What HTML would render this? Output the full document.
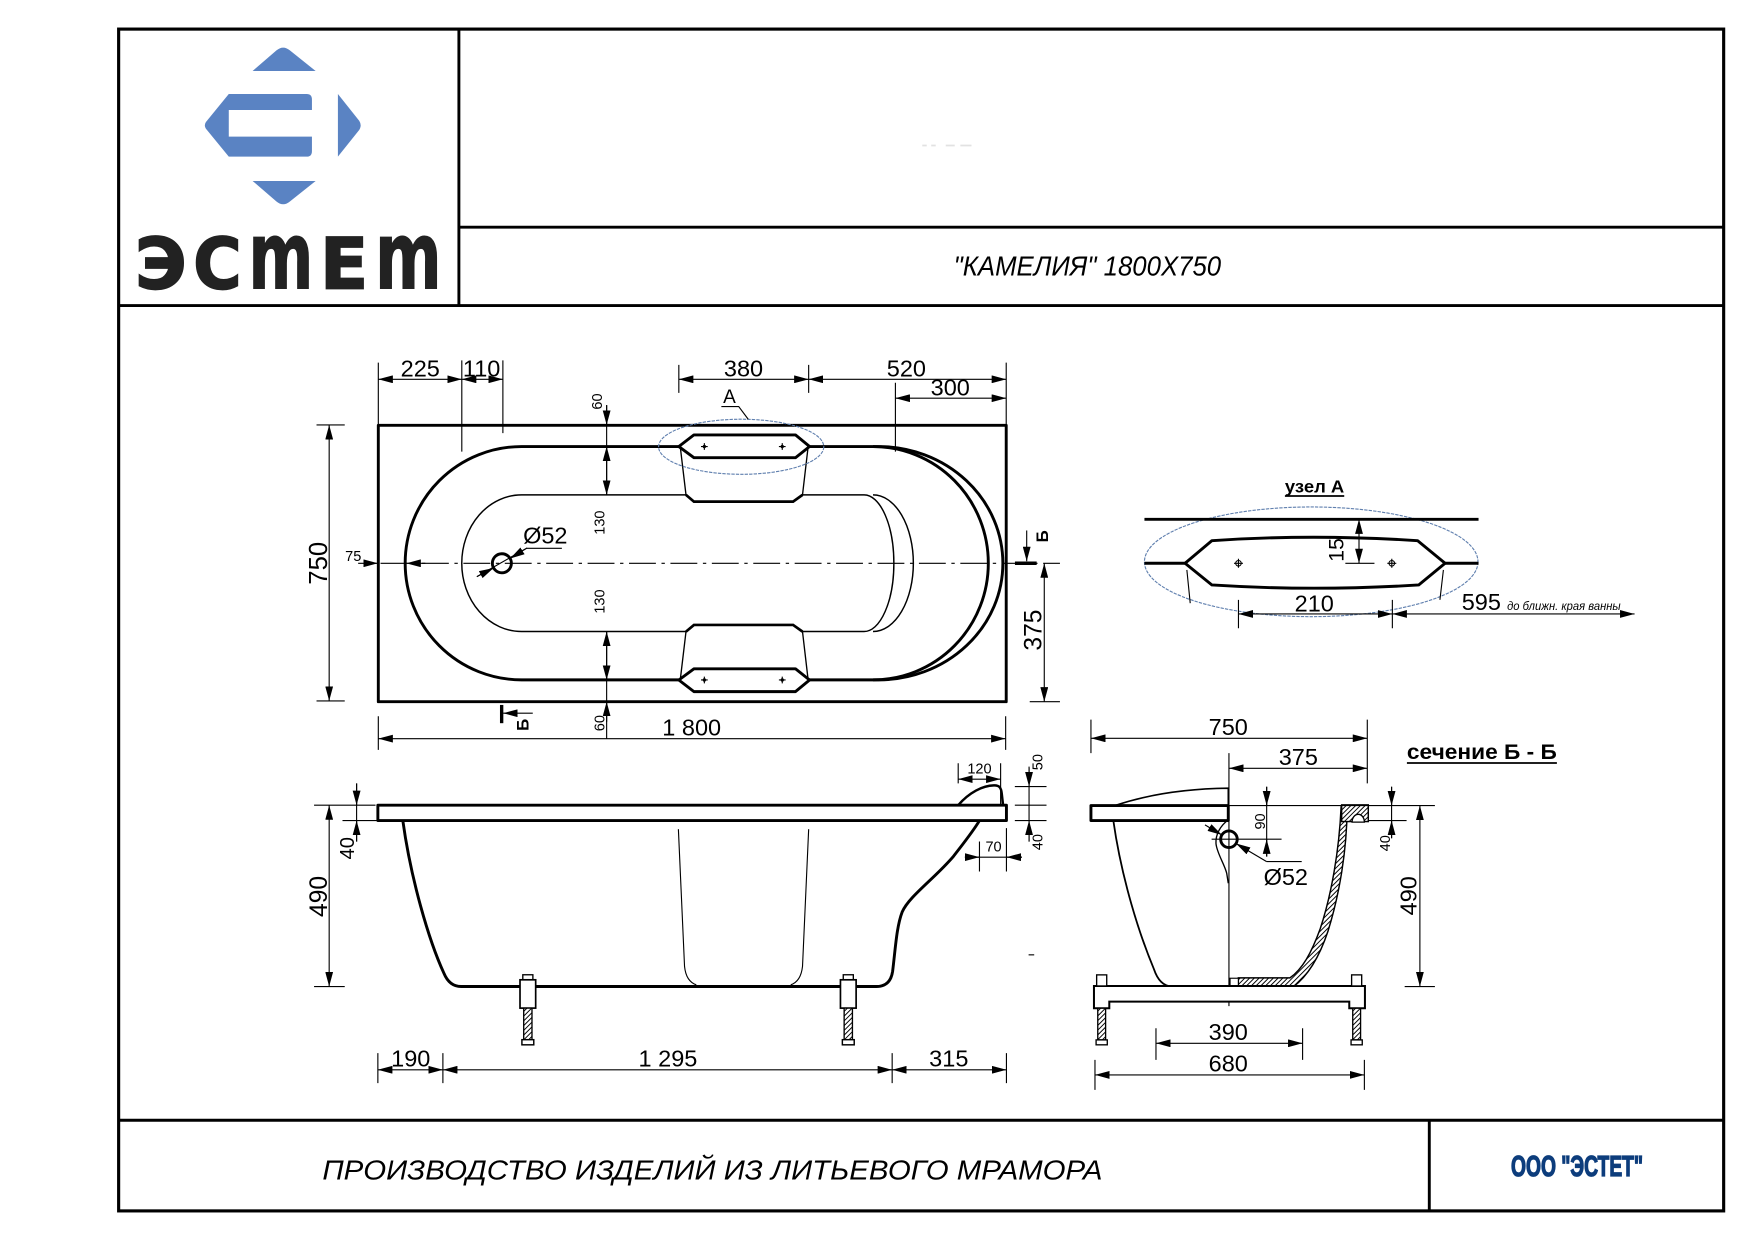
<!DOCTYPE html>
<html><head><meta charset="utf-8">
<style>
html,body{margin:0;padding:0;background:#fff;}
svg{display:block;}
</style></head>
<body>
<svg xmlns="http://www.w3.org/2000/svg" width="1755" height="1240" viewBox="0 0 1568 1108" preserveAspectRatio="none">
<defs>
<marker id="a" viewBox="0 0 13 7" refX="13" refY="3.5" markerWidth="13" markerHeight="7" markerUnits="userSpaceOnUse" orient="auto-start-reverse"><path d="M0,0L13,3.5L0,7z" fill="#000"/></marker>
<pattern id="h" width="3" height="3" patternUnits="userSpaceOnUse" patternTransform="rotate(45)"><rect width="3" height="3" fill="#fff"/><line x1="0" y1="0" x2="0" y2="3" stroke="#000" stroke-width="1.7"/></pattern>
</defs>
<style>
.t{fill:none;stroke:#000;stroke-width:1}
.k{fill:none;stroke:#000;stroke-width:2.6;stroke-linejoin:round}
.d{fill:none;stroke:#000;stroke-width:1;marker-start:url(#a);marker-end:url(#a)}
.e{fill:none;stroke:#000;stroke-width:1;marker-end:url(#a)}
text{font-family:"Liberation Sans",Arial,sans-serif;fill:#000}
.n{font-size:21px;text-anchor:middle}
.s{font-size:13px;text-anchor:middle}
</style>
<rect width="1568" height="1108" fill="#fff"/>

<!-- FRAME -->
<rect x="106" y="26" width="1434" height="1056" fill="none" stroke="#000" stroke-width="2.8"/>
<path d="M410,26V273 M410,203H1540 M106,273H1540 M106,1001H1540 M1277,1001V1082" fill="none" stroke="#000" stroke-width="2.6"/>

<!-- LOGO -->
<g fill="#5a83c3">
<path d="M225.7,63.4 L247,45 Q253,40 259,45 L282,63.4 Z"/>
<path d="M225.7,161.7 L282,161.7 L259,180 Q253,185 247,180 Z"/>
<path d="M204.4,84 L274,84 Q278.7,84 278.7,89 L278.7,98.3 L204.4,98.3 L204.4,122.1 L278.7,122.1 L278.7,135 Q278.7,140 274,140 L204.4,140 L184,115 Q182,112 184,109 Z"/>
<path d="M301.9,84 L321,108 Q323.5,112 321,116 L301.9,140 Z"/>
</g>
<g font-weight="bold">
<text x="120.6" y="257.6" font-size="63" textLength="46.2" lengthAdjust="spacingAndGlyphs" stroke="#222" stroke-width="1.5" style="font-family:'DejaVu Sans',sans-serif;fill:#222">Э</text>
<text x="172.7" y="257.6" font-size="63" textLength="43.2" lengthAdjust="spacingAndGlyphs" stroke="#222" stroke-width="1.5" style="font-family:'DejaVu Sans',sans-serif;fill:#222">С</text>
<text x="221.9" y="257.6" font-size="84" textLength="58.1" lengthAdjust="spacingAndGlyphs" stroke="#222" stroke-width="1" style="font-family:'DejaVu Sans',sans-serif;fill:#222">m</text>
<text x="285.9" y="257.6" font-size="63" textLength="43.1" lengthAdjust="spacingAndGlyphs" stroke="#222" stroke-width="1.5" style="font-family:'DejaVu Sans',sans-serif;fill:#222">Е</text>
<text x="335" y="257.6" font-size="84" textLength="59.6" lengthAdjust="spacingAndGlyphs" stroke="#222" stroke-width="1" style="font-family:'DejaVu Sans',sans-serif;fill:#222">m</text>
</g>

<!-- TITLE -->
<path d="M824,130h4 M832,130h4 M845,130h8 M858,130h10" stroke="#e2e2e2" stroke-width="1.5"/>
<text x="852" y="246" font-size="25" font-style="italic" textLength="239" lengthAdjust="spacingAndGlyphs">"КАМЕЛИЯ" 1800X750</text>
<text x="288" y="1054" font-size="25" font-style="italic" textLength="697" lengthAdjust="spacingAndGlyphs">ПРОИЗВОДСТВО ИЗДЕЛИЙ ИЗ ЛИТЬЕВОГО МРАМОРА</text>
<text x="1350" y="1051" font-size="26" font-weight="bold" textLength="118" lengthAdjust="spacingAndGlyphs" stroke="#0d3d7c" stroke-width="1.2" style="fill:#0d3d7c">ООО "ЭСТЕТ"</text>

<!-- ===== PLAN VIEW ===== -->
<rect class="k" x="338" y="380" width="561" height="247"/>
<path class="k" d="M466,399 L785,399 A111,104.25 0 0 1 785,607.5 L466,607.5 A104,104.25 0 0 1 466,399 Z"/>
<path class="k" d="M780,399 A103,104.25 0 0 1 780,607.5"/>
<path fill="none" stroke="#000" stroke-width="1.3" d="M466,442.2 L772,442.2 A26.6,61 0 0 1 772,564.3 L466,564.3 A53.4,61 0 0 1 466,442.2 Z"/>
<path fill="none" stroke="#000" stroke-width="1.3" d="M780,442.2 A36,61 0 0 1 780,564.3"/>
<path class="t" d="M340,503.3H947" stroke-dasharray="24 5 3 5"/>
<g id="hr">
<path d="M608,401 L612.9,442.2 L620,448.2 L708.6,448.2 L717,442.2 L721.8,401 Z" fill="#fff" stroke="#000" stroke-width="1.2"/>
<path d="M612.9,442.2 L620,448.2 L708.6,448.2 L717,442.2" fill="none" stroke="#000" stroke-width="2.4"/>
<path d="M606.5,399 L620,388.6 L710.7,388.6 L723.3,399 L710.7,409 L620,409 Z" fill="#fff" stroke="#000" stroke-width="2.6" stroke-linejoin="round"/>
<path class="t" d="M626.3,399h6 M629.3,396v6 M695.9,399h6 M698.9,396v6"/>
<circle cx="629.3" cy="399" r="1.5" fill="#000"/><circle cx="698.9" cy="399" r="1.5" fill="#000"/>
</g>
<use href="#hr" transform="translate(0,1006.6) scale(1,-1)"/>
<ellipse cx="662.2" cy="399.2" rx="73.8" ry="24.6" fill="none" stroke="#5f7fae" stroke-width="1" stroke-dasharray="3 1"/>
<text x="651.7" y="360" font-size="17" text-anchor="middle">A</text>
<path class="t" d="M644.5,363.3H660L668.5,374.6"/>

<path class="d" d="M338,338.9H412.6"/>
<path class="d" d="M412.6,338.9H449.3"/>
<path class="d" d="M606.5,338.9H722.5"/>
<path class="d" d="M722.5,338.9H899"/>
<path class="d" d="M800,355.8H899"/>
<path class="t" d="M338,324V380 M412.6,322V403.5 M449.3,322V387 M606.5,326V351 M722.5,326V351 M800,342V403.5 M899,324V380"/>
<text class="n" x="375.5" y="336.5">225</text>
<text class="n" x="430.3" y="336.5">110</text>
<text class="n" x="664.3" y="336.5">380</text>
<text class="n" x="809.8" y="336.5">520</text>
<text class="n" x="849" y="353.5">300</text>
<path class="d" d="M294.1,379.7V626.3"/>
<path class="t" d="M282.8,379.7H308 M282.8,626.3H308"/>
<text class="n" style="font-size:23px" transform="translate(292,503.3) rotate(-90)">750</text>
<text class="s" x="315.6" y="501.5">75</text>
<path class="e" d="M320,503.3H337.6"/>
<path class="e" d="M380,503.3H363"/>
<circle class="k" cx="448.4" cy="503.3" r="8.5"/>
<path class="t" d="M426.1,515.2L470.4,489.9H502"/>
<path class="e" d="M426,515.3L441,507.5"/>
<path class="e" d="M471,489.6L455.8,499.1"/>
<text class="n" x="487.2" y="485.5">Ø52</text>
<path class="t" d="M542,362V442.2 M542,564.3V660"/>
<path class="e" d="M542,362V379.7"/>
<path class="e" d="M542,420V399"/>
<path class="e" d="M542,420V442.2"/>
<path class="e" d="M542,587V564.3"/>
<path class="e" d="M542,587V607.5"/>
<path class="e" d="M542,645V627"/>
<text class="s" transform="translate(538,358.8) rotate(-90)">60</text>
<text class="s" transform="translate(540,467) rotate(-90)">130</text>
<text class="s" transform="translate(540,537.5) rotate(-90)">130</text>
<text class="s" transform="translate(540,646.2) rotate(-90)">60</text>
<path d="M906.8,503.3H926.2" stroke="#000" stroke-width="3.2"/>
<path class="e" d="M917.3,474V501.5"/>
<text font-size="15" font-weight="bold" text-anchor="middle" transform="translate(936.5,479.3) rotate(-90)">Б</text>
<path d="M448.2,629.9V646.2" stroke="#000" stroke-width="3"/>
<path class="e" d="M476,637.3H449.5"/>
<text font-size="15" font-weight="bold" text-anchor="middle" transform="translate(472,647.7) rotate(-90)">Б</text>
<path class="d" d="M933,503.3V627"/>
<path class="t" d="M920,627H947"/>
<text class="n" style="font-size:22px" transform="translate(930.7,563) rotate(-90)">375</text>
<path class="d" d="M338,660H898.5"/>
<path class="t" d="M338,640V670 M898.5,640V670"/>
<text class="n" x="618" y="657">1 800</text>

<!-- ===== SIDE VIEW ===== -->
<path class="k" d="M359.9,733.2 C367,785 383,840 396.6,869.6 Q401.5,881.5 412,881.5 L783,881.5 Q795.5,881.5 797.5,868 C800,848 801,828 806,815 C812,801 835,785 852,765 C862,752 870,742 875.1,733.2"/>
<path fill="none" stroke="#000" stroke-width="2.2" d="M856.1,719.5 C866,708 878,702 888,701.8 C893,701.6 894.5,704 895,709 L896.2,719.5"/>
<rect class="k" x="337.6" y="719.5" width="561.6" height="13.7" fill="#fff"/>
<path class="t" d="M606.1,740.9 L611.6,863.6 Q613,877 622.1,880 M722.5,740.9 L717,863.6 Q715.5,877 706.5,880"/>
<g id="ft" transform="translate(471.6,0)">
<rect x="-4.5" y="871" width="9" height="4.5" fill="#fff" stroke="#000" stroke-width="1.2"/>
<rect x="-7" y="875.5" width="14" height="25.3" fill="#fff" stroke="#000" stroke-width="1.5"/>
<rect x="-3.7" y="900.8" width="7.4" height="28.2" fill="url(#h)" stroke="#000" stroke-width="1.2"/>
<rect x="-5.3" y="929" width="10.6" height="4.6" fill="#fff" stroke="#000" stroke-width="1.3"/>
</g>
<use href="#ft" transform="translate(286.3,0)"/>
<path class="d" d="M294.1,719.5V881.5"/>
<path class="t" d="M280.6,719.5H335.5 M280.6,881.5H308"/>
<text class="n" style="font-size:22px" transform="translate(292,801) rotate(-90)">490</text>
<path class="t" d="M318.6,700V752"/>
<path class="e" d="M318.6,700V719.5"/>
<path class="e" d="M318.6,752V733.2"/>
<path class="t" d="M306,733.2H337.6"/>
<text class="n" style="font-size:18px" transform="translate(316.5,758) rotate(-90)">40</text>
<path class="d" d="M856.1,696.2H894"/>
<path class="t" d="M856.1,682V700 M894,682V719.5"/>
<text class="s" x="875.1" y="691">120</text>
<path class="t" d="M919.4,685V752"/>
<path class="e" d="M919.4,686V702.8"/>
<path class="e" d="M919.4,752V733.2"/>
<path class="t" d="M906.7,702.8H935 M906.7,719.5H935 M906.7,733.2H935"/>
<text class="s" transform="translate(931.6,681) rotate(-90)">50</text>
<text class="s" transform="translate(931.6,752.5) rotate(-90)">40</text>
<path class="t" d="M862.5,765.9H913"/>
<path class="e" d="M862,765.9H875.1"/>
<path class="e" d="M913,765.9H899.2"/>
<path class="t" d="M875.1,751.9V778.7 M899.2,740V778.7"/>
<text class="s" x="887.7" y="761">70</text>
<path class="t" d="M919,853.2H924"/>
<path class="d" d="M337.6,955.9H395.7"/>
<path class="d" d="M395.7,955.9H797.1"/>
<path class="d" d="M797.1,955.9H899.2"/>
<path class="t" d="M337.6,941V967.8 M395.7,941V967.8 M797.1,941V967.8 M899.2,941V967.8"/>
<text class="n" x="367" y="953">190</text>
<text class="n" x="596.8" y="953">1 295</text>
<text class="n" x="847.7" y="953">315</text>

<!-- ===== SECTION VIEW ===== -->
<path class="d" d="M974.7,659.7H1221.6"/>
<path class="t" d="M974.7,643V673 M1221.6,643V700"/>
<text class="n" x="1097.4" y="656.8">750</text>
<path class="d" d="M1098,686.5H1221.6"/>
<text class="n" x="1160" y="683.5">375</text>
<path class="t" d="M1098,673V899"/>
<path fill="none" stroke="#000" stroke-width="1.4" d="M996.2,719.8 Q1040,705 1097.4,704.3 V719.8"/>
<path fill="none" stroke="#000" stroke-width="1.2" d="M1097.4,732.6 C1090,738 1086,746 1086.4,753.5 C1087,762 1094,772 1096,780.3 L1097.4,789.2"/>
<rect class="k" x="974.7" y="719.8" width="122.7" height="13.4" fill="#fff"/>
<path fill="none" stroke="#000" stroke-width="1.6" d="M994.7,733.2 C1002,785 1018,835 1031,866 Q1036,881 1047,881.5 L1106.4,881.5"/>
<path d="M1198.2,721 L1203.6,721 C1203.5,760 1196.5,800 1186.5,832 C1178.5,856 1168.5,872 1155.5,881.7 L1106.4,881.7 L1106.4,873.8 L1152.5,873.8 C1163.5,866 1171.5,852 1179.5,830 C1189.5,800 1196.5,760 1198.2,721 Z" fill="url(#h)" stroke="#000" stroke-width="1.3"/>
<rect x="1198.7" y="719.2" width="23.8" height="14.9" fill="url(#h)" stroke="#000" stroke-width="1.3"/>
<path d="M1208,734.6 A5.5,7 0 0 1 1219,734.6 Z" fill="#fff" stroke="#000" stroke-width="1.2"/>
<rect x="1099" y="874.1" width="7.4" height="7.4" fill="#fff" stroke="#000" stroke-width="1"/>
<path d="M977.4,881 L1219.5,881 L1219.5,900.9 L1205.5,900.9 L1205.5,895 L991.1,895 L991.1,900.9 L977.4,900.9 Z" fill="#fff" stroke="#000" stroke-width="1.8"/>
<g id="bt" transform="translate(984.3,0)">
<rect x="-4.5" y="871.1" width="9" height="9.9" fill="#fff" stroke="#000" stroke-width="1.2"/>
<rect x="-3.5" y="900.9" width="7" height="28.3" fill="url(#h)" stroke="#000" stroke-width="1.2"/>
<rect x="-5" y="929.2" width="10" height="4.4" fill="#fff" stroke="#000" stroke-width="1.2"/>
</g>
<use href="#bt" transform="translate(227.8,0)"/>
<circle class="k" cx="1098" cy="749.9" r="7.4"/>
<path class="t" d="M1082.5,749.9H1145"/>
<path class="e" d="M1076.6,737.1L1091.7,746.1"/>
<path class="e" d="M1131.7,769.9L1104.3,753.7"/>
<path class="t" d="M1131.7,769.9H1163"/>
<text class="n" x="1148.8" y="790.7">Ø52</text>
<path class="t" d="M1097,719.8H1282"/>
<path class="t" d="M1131.7,703V765.4"/>
<path class="e" d="M1131.7,703V719.8"/>
<path class="e" d="M1131.7,765.4V750"/>
<text class="s" transform="translate(1130,734) rotate(-90)">90</text>
<path class="t" d="M1243.3,703V749"/>
<path class="e" d="M1243.3,703V719.8"/>
<path class="e" d="M1243.3,749V733.2"/>
<path class="t" d="M1222.5,733.2H1256.7"/>
<text class="s" transform="translate(1242,753.5) rotate(-90)">40</text>
<path class="d" d="M1268.6,719.8V881.5"/>
<path class="t" d="M1255,881.5H1282"/>
<text class="n" transform="translate(1265.7,800.4) rotate(-90)">490</text>
<path class="d" d="M1032.8,932.2H1163.8"/>
<path class="t" d="M1032.8,918.8V947 M1163.8,918.8V947"/>
<text class="n" x="1097.4" y="929.2">390</text>
<path class="d" d="M978.3,960.5H1219"/>
<path class="t" d="M978.3,947V973.9 M1219,947V973.9"/>
<text class="n" x="1097.4" y="957.5">680</text>
<text x="1257" y="678" font-size="19" font-weight="bold" textLength="134" lengthAdjust="spacingAndGlyphs">сечение Б - Б</text>
<path d="M1257,681.8H1391" stroke="#000" stroke-width="1.6"/>

<!-- ===== NODE A ===== -->
<ellipse cx="1171.5" cy="502" rx="149" ry="49" fill="none" stroke="#5f7fae" stroke-width="1" stroke-dasharray="3 1"/>
<text x="1148" y="440" font-size="16" font-weight="bold" textLength="53" lengthAdjust="spacingAndGlyphs">узел А</text>
<path d="M1148,443.2H1201" stroke="#000" stroke-width="1.5"/>
<path d="M1022.5,464H1321 M1022.5,503.3H1058.8 M1291.1,503.3H1321" stroke="#000" stroke-width="2.6"/>
<path d="M1058.8,503.3 L1082.8,483.1 Q1172.7,477 1266.5,483.1 L1291.1,503.3 L1267.5,522.7 Q1172.7,528.5 1082.8,522.7 Z" fill="#fff" stroke="#000" stroke-width="2.6" stroke-linejoin="round"/>
<path class="t" d="M1060.4,509.3L1063.4,539 M1289.6,509.3L1286.5,536"/>
<path class="t" d="M1102.5,503.3h8 M1106.5,499.3v8 M1239.5,503.3h8 M1243.5,499.3v8"/>
<circle cx="1106.5" cy="503.3" r="2.5" fill="none" stroke="#000" stroke-width="0.9"/>
<circle cx="1243.5" cy="503.3" r="2.5" fill="none" stroke="#000" stroke-width="0.9"/>
<path class="d" d="M1214.2,464V503.3"/>
<path class="t" d="M1202,503.3H1228"/>
<text class="n" style="font-size:19px" transform="translate(1200.4,491.4) rotate(-90)">15</text>
<path class="d" d="M1106.5,548.6H1244"/>
<path class="t" d="M1106.5,536V561.4 M1244,536V561.4"/>
<text class="n" x="1174.2" y="546.5">210</text>
<path class="d" d="M1244,548.6H1460.4"/>
<text class="n" x="1323.5" y="545">595</text>
<text x="1346.5" y="545" font-size="10.5" font-style="italic" textLength="101.5" lengthAdjust="spacingAndGlyphs">до ближн. края ванны</text>
</svg>
</body></html>
